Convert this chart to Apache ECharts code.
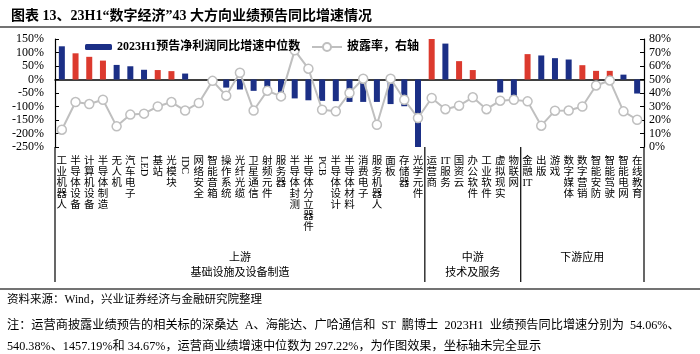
<!DOCTYPE html>
<html>
<head>
<meta charset="utf-8">
<script src="https://cdn.jsdelivr.net/npm/echarts@6/dist/echarts.min.js"></script>
<style>
html, body { margin: 0; padding: 0; background: #fff; }
#chart { width: 700px; height: 354px; }
</style>
</head>
<body>
<div id="chart"></div>
<script>
var categories = ['工业机器人', '半导体设备', '计算机设备', '半导体制造', '无人机', '汽车电子', 'LED', '基站', '光模块', 'IDC',
  '网络安全', '智能音箱', '操作系统', '光纤光缆', '卫星通信', '射频元件', '服务器', '半导体封测', '半导体分立器件', 'PCB',
  '半导体设计', '半导体材料', '消费电子', '服务机器人', '面板', '存储器', '光学元件',
  '运营商', 'IT服务', '国资云', '办公软件', '工业软件', '虚拟现实', '物联网',
  '金融IT', '出版', '游戏', '数字媒体', '数字营销', '智能安防', '智能驾驶', '智能电网', '在线教育']
// 2023H1预告净利润同比增速中位数 (%)
var growthValues = [123, 97, 84, 70, 54, 49, 36, 35, 31, 22,
  0, -3, -30, -37, -42, -30, -52, -70, -77, -79,
  -80, -83, -83, -83, -91, -99, -250,
  297.22, 133, 68, 35, 0, -48, -65,
  94, 89, 79, 74, 53, 32, 32, 18, -52]
// 红色标注的方向
var highlight = [0, 1, 1, 1, 0, 0, 0, 1, 1, 0,
  0, 0, 0, 0, 0, 0, 0, 0, 0, 0,
  0, 0, 0, 0, 0, 0, 0,
  1, 0, 1, 1, 0, 0, 0,
  1, 0, 0, 0, 1, 1, 1, 0, 0]
// 披露率 (%), 右轴
var discloseRates = [12.8, 33.3, 31.8, 35, 15.3, 24, 24.7, 30, 33.3, 27,
  32.6, 49, 38, 55, 27, 41.7, 37.5, 71.6, 58, 27.6,
  26.4, 40, 50.6, 16.5, 50.6, 35, 21.5,
  36.3, 28, 30.6, 36.8, 28, 34.3, 35,
  33.8, 15.8, 26.9, 27, 30, 45.6, 49.3, 26.4, 20.2]
// 产业链分组: 名称 与 每组结束位置
var groupNames = ['上游\n基础设施及设备制造', '中游\n技术及服务', '下游应用']
var groupEnds = [27, 34, 43]

var barName = '2023H1预告净利润同比增速中位数'
var lineName = '披露率，右轴'
var BLUE = '#1b2f86', RED = '#dc3a2e', GREY = '#bfbfbf'
var FONT = '"Liberation Serif", "Noto Sans CJK SC", serif'

function isLatin(s) { return /^[A-Za-z]+$/.test(s) }

var chart = echarts.init(document.getElementById('chart'))

var barData = growthValues.map(function (v, i) {
  return highlight[i] ? { value: v, itemStyle: { color: RED } } : v
})

var labelAxisBase = {
  type: 'category',
  data: categories,
  position: 'bottom',
  axisLine: { show: false, onZero: false },
  axisTick: { show: false },
  splitLine: { show: false }
}

var option = {
  animation: false,
  title: {
    text: '图表 13、23H1“数字经济”43 大方向业绩预告同比增速情况',
    left: 6,
    top: 4,
    textStyle: { fontSize: 14, fontWeight: 'bold', color: '#000', fontFamily: FONT }
  },
  legend: [
    {
      data: [barName],
      left: 80, top: 36,
      itemWidth: 27, itemHeight: 6, itemGap: 5,
      textStyle: { fontSize: 12, fontWeight: 'bold', color: '#000', fontFamily: FONT }
    },
    {
      data: [lineName],
      left: 306, top: 36,
      itemWidth: 30, itemHeight: 10,
      textStyle: { fontSize: 12, fontWeight: 'bold', color: '#000', fontFamily: FONT }
    }
  ],
  grid: { left: 55, right: 56, top: 39, bottom: 207, containLabel: false },
  xAxis: [
    {
      type: 'category',
      data: categories,
      axisLine: { onZero: true, onZeroAxisIndex: 0, lineStyle: { color: '#000', width: 1.5 } },
      axisTick: { show: false },
      axisLabel: { show: false },
      splitLine: { show: false }
    },
    echarts.util.merge({
      axisLabel: {
        interval: 0, margin: 9,
        fontSize: 10.5, lineHeight: 11, color: '#000', fontFamily: FONT,
        verticalAlign: 'top',
        formatter: function (v) {
          if (isLatin(v)) return ''
          return v.match(/[A-Za-z]+|./g).join('\n')
        }
      }
    }, labelAxisBase, true),
    echarts.util.merge({
      axisLabel: {
        interval: 0, margin: 9, rotate: -90,
        fontSize: 10.5, color: '#000', fontFamily: FONT,
        formatter: function (v) { return isLatin(v) ? v : '' }
      }
    }, labelAxisBase, true)
  ],
  yAxis: [
    {
      type: 'value',
      min: -250, max: 150, interval: 50,
      axisLine: { show: true, lineStyle: { color: '#000', width: 1.2 } },
      axisTick: { show: true, inside: true, length: 4, lineStyle: { color: '#000' } },
      axisLabel: { margin: 11, fontSize: 12, color: '#000', fontFamily: FONT, formatter: '{value}%' },
      splitLine: { show: false }
    },
    {
      type: 'value',
      position: 'right',
      min: 0, max: 80, interval: 10,
      axisLine: { show: true, lineStyle: { color: '#000', width: 1.2 } },
      axisTick: { show: true, inside: true, length: 4, lineStyle: { color: '#000' } },
      axisLabel: { margin: 5, fontSize: 12, color: '#000', fontFamily: FONT, formatter: '{value}%' },
      splitLine: { show: false }
    }
  ],
  series: [
    {
      name: barName,
      type: 'bar',
      xAxisIndex: 0,
      yAxisIndex: 0,
      barWidth: 6,
      itemStyle: { color: BLUE },
      data: barData
    },
    {
      name: lineName,
      type: 'line',
      xAxisIndex: 0,
      yAxisIndex: 1,
      symbol: 'circle',
      symbolSize: 9,
      itemStyle: { color: '#fff', borderColor: GREY, borderWidth: 1.5 },
      lineStyle: { color: GREY, width: 2 },
      data: discloseRates
    }
  ]
}
chart.setOption(option)

// 分组分隔线与说明文字
var p0 = chart.convertToPixel({ gridIndex: 0 }, [0, 0])
var p1 = chart.convertToPixel({ gridIndex: 0 }, [1, 0])
var band = p1[0] - p0[0]
var plotBottom = 147, sepBottom = 282
function edgeX(n) { return p0[0] - band / 2 + n * band }

var graphics = [
  { type: 'line', shape: { x1: 0, y1: 27, x2: 700, y2: 27 }, style: { stroke: '#444', lineWidth: 1.5 } },
  { type: 'line', shape: { x1: 0, y1: 289, x2: 700, y2: 289 }, style: { stroke: '#444', lineWidth: 1.5 } },
  { type: 'line', shape: { x1: edgeX(0), y1: plotBottom, x2: edgeX(0), y2: sepBottom }, style: { stroke: '#000', lineWidth: 1.2 } }
]
var start = 0
groupEnds.forEach(function (end, i) {
  var x = edgeX(end)
  graphics.push({ type: 'line', shape: { x1: x, y1: plotBottom, x2: x, y2: sepBottom }, style: { stroke: '#000', lineWidth: 1.2 } })
  graphics.push({
    type: 'text', x: (edgeX(start) + x) / 2, y: 251,
    style: { text: groupNames[i], align: 'center', verticalAlign: 'top', fontSize: 11, lineHeight: 15, fill: '#000', fontFamily: FONT }
  })
  start = end
})
graphics.push({
  type: 'text', x: 7, y: 294,
  style: { text: '资料来源：Wind，兴业证券经济与金融研究院整理', fontSize: 11.5, fill: '#000', fontFamily: FONT }
})
graphics.push({
  type: 'text', x: 7, y: 315,
  style: {
    text: '注：运营商披露业绩预告的相关标的深桑达  A、海能达、广哈通信和  ST  鹏博士  2023H1  业绩预告同比增速分别为  54.06%、\n540.38%、1457.19%和 34.67%，运营商业绩增速中位数为 297.22%，为作图效果，坐标轴未完全显示',
    fontSize: 12.2, lineHeight: 21, fill: '#000', fontFamily: FONT
  }
})
chart.setOption({ graphic: graphics })
</script>
</body>
</html>
